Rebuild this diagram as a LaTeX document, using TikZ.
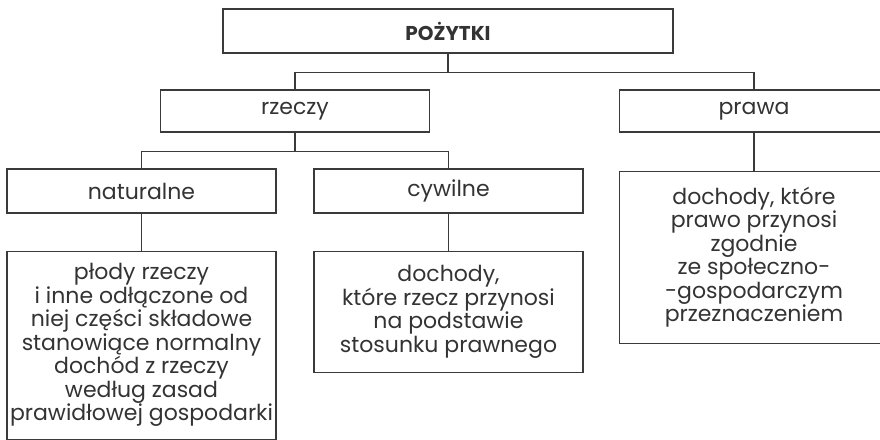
\documentclass[tikz,border=0pt]{standalone}
\usepackage{fontspec}
\setmainfont{Poppins}
\usetikzlibrary{positioning}
\definecolor{linegray}{HTML}{3A3A3A}
\definecolor{textgray}{HTML}{333333}

\begin{document}
\begin{tikzpicture}[x=1pt, y=-1pt, font=\fontsize{22}{23.5}\selectfont, text=textgray, node distance=37pt]

% Styles
        \tikzstyle{box}=[rectangle, draw=linegray, line width=1.3pt, inner sep=0pt, align=center]
        \tikzstyle{head}=[box, minimum width=269pt, minimum height=42pt]
        \tikzstyle{desc}=[box, minimum width=269pt]
        \tikzstyle{line}=[draw=linegray, line width=1.3pt]

        \useasboundingbox (0,0) rectangle (880,439);

% Nodes
% Root
        \node[box, minimum width=450pt, minimum height=44pt, font=\fontsize{20}{23}\selectfont\bfseries] (root) at (448,31) {POŻYTKI};

% Second level
        \node[head] (rzeczy) at (295,111) {rzeczy};
        \node[head] (prawa) at (754,111) {prawa};

% Third level
        \node[head, minimum height=44pt] (naturalne) at (141.5,191) {naturalne};
        \node[head, minimum height=44pt] (cywilne) at (448.5,191) {cywilne};

% Descriptions
        \node[desc, minimum height=188pt, below=of naturalne] (plody) {płody rzeczy\\i inne odłączone od\\niej części składowe\\stanowiące normalny\\dochód z rzeczy\\według zasad\\prawidłowej gospodarki};
        \node[desc, minimum height=121pt, below=of cywilne] (dochodyrzecz) {dochody,\\które rzecz przynosi\\na podstawie\\stosunku prawnego};
        \node[desc, minimum height=172pt, below=38pt of prawa] (dochodyprawa) {dochody, które\\prawo przynosi\\zgodnie\\ze społeczno-\\-gospodarczym\\przeznaczeniem};

% Connections
        \draw[line] (root.south) -- ++(0,19) -| (rzeczy.north);
        \draw[line] (root.south) -- ++(0,19) -| (prawa.north);
        \draw[line] (rzeczy.south) -- ++(0,19) -| (naturalne.north);
        \draw[line] (rzeczy.south) -- ++(0,19) -| (cywilne.north);
        \draw[line] (naturalne) -- (plody);
        \draw[line] (cywilne) -- (dochodyrzecz);
        \draw[line] (prawa) -- (dochodyprawa);

\end{tikzpicture}
\end{document}
